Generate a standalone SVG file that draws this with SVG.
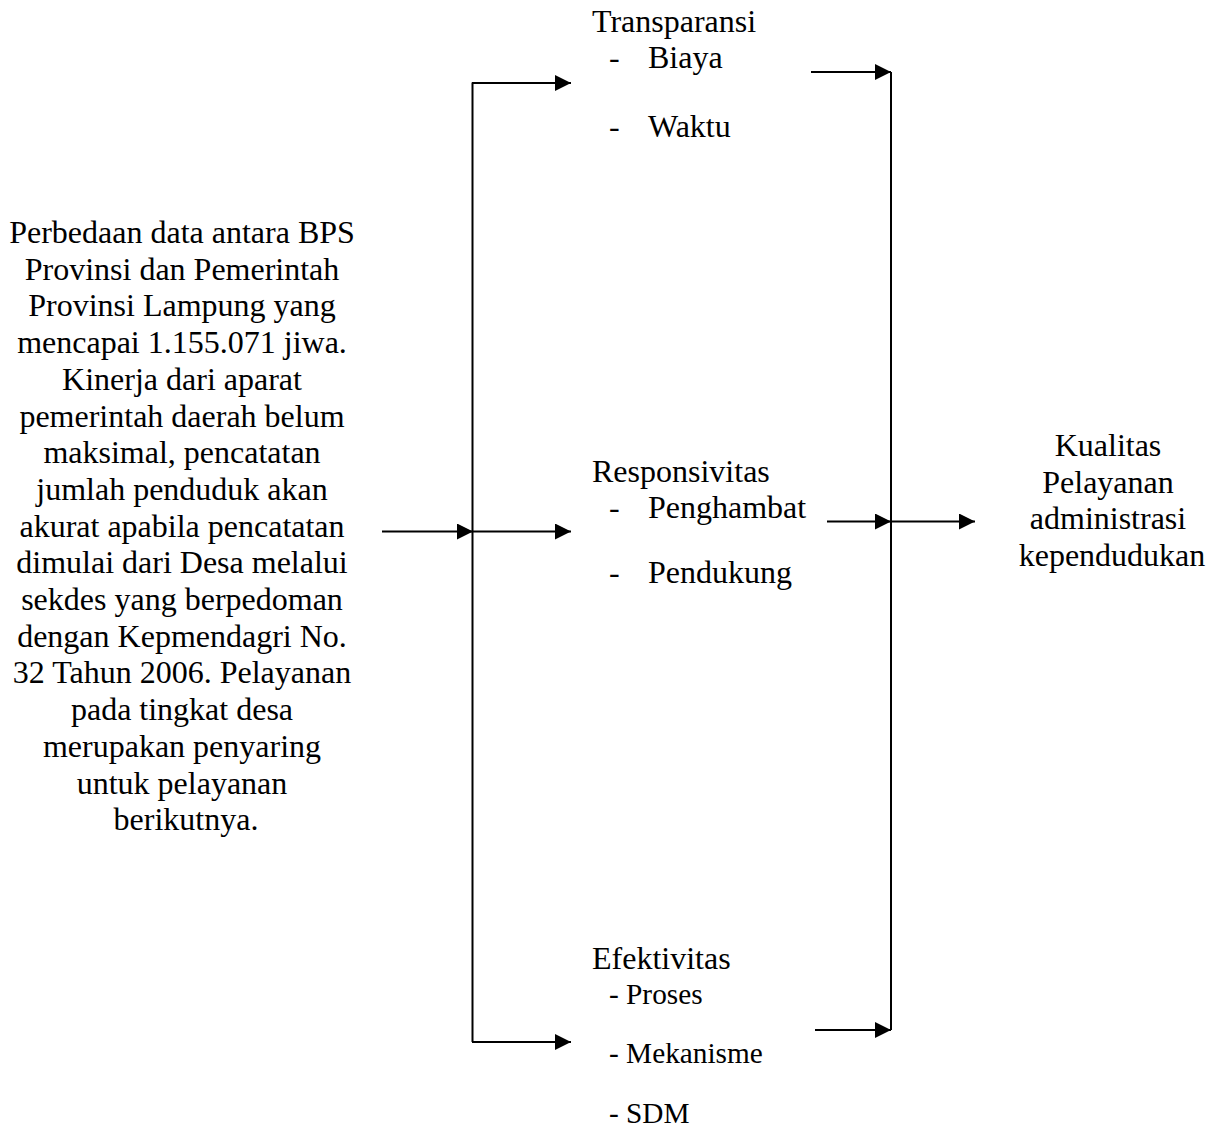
<svg xmlns="http://www.w3.org/2000/svg" width="1223" height="1128" viewBox="0 0 1223 1128">
<style>
.t{font-family:"Liberation Serif","Times New Roman",serif;font-size:32px;fill:#000}
.s{font-family:"Liberation Serif","Times New Roman",serif;font-size:29.3px;fill:#000}
.c{stroke:#000;stroke-width:2;fill:none}
</style>
<defs>
<marker id="ah" markerWidth="16" markerHeight="16" refX="16" refY="8" orient="auto" markerUnits="userSpaceOnUse">
<path d="M0,0 L16,8 L0,16 Z" fill="#000"/>
</marker>
</defs>
<rect width="1223" height="1128" fill="#fff"/>
<g id="problem">
<text class="t" text-anchor="middle">
<tspan x="186" y="243">Perbedaan data antara BPS</tspan>
<tspan x="186" y="279.7">Provinsi dan Pemerintah</tspan>
<tspan x="186" y="316.4">Provinsi Lampung yang</tspan>
<tspan x="186" y="353.1">mencapai 1.155.071 jiwa.</tspan>
<tspan x="186" y="389.8">Kinerja dari aparat</tspan>
<tspan x="186" y="426.5">pemerintah daerah belum</tspan>
<tspan x="186" y="463.2">maksimal, pencatatan</tspan>
<tspan x="186" y="499.9">jumlah penduduk akan</tspan>
<tspan x="186" y="536.6">akurat apabila pencatatan</tspan>
<tspan x="186" y="573.3">dimulai dari Desa melalui</tspan>
<tspan x="186" y="610">sekdes yang berpedoman</tspan>
<tspan x="186" y="646.7">dengan Kepmendagri No.</tspan>
<tspan x="186" y="683.4">32 Tahun 2006. Pelayanan</tspan>
<tspan x="186" y="720.1">pada tingkat desa</tspan>
<tspan x="186" y="756.8">merupakan penyaring</tspan>
<tspan x="186" y="793.5">untuk pelayanan</tspan>
<tspan x="186" y="830.2">berikutnya.</tspan>
</text>
</g>
<g id="transparansi">
<text class="t" x="592" y="32">Transparansi</text>
<text class="t" x="609" y="68">-</text>
<text class="t" x="648" y="68">Biaya</text>
<text class="t" x="609" y="137">-</text>
<text class="t" x="648" y="137">Waktu</text>
</g>
<g id="responsivitas">
<text class="t" x="592" y="482">Responsivitas</text>
<text class="t" x="609" y="518">-</text>
<text class="t" x="648" y="518">Penghambat</text>
<text class="t" x="609" y="583">-</text>
<text class="t" x="648" y="583">Pendukung</text>
</g>
<g id="efektivitas">
<text class="t" x="592" y="969">Efektivitas</text>
<text class="s" x="609" y="1004">- Proses</text>
<text class="s" x="609" y="1063">- Mekanisme</text>
<text class="s" x="609" y="1123">- SDM</text>
</g>
<g id="kualitas">
<text class="t" text-anchor="middle">
<tspan x="1112" y="456">Kualitas</tspan>
<tspan x="1112" y="492.5">Pelayanan</tspan>
<tspan x="1112" y="529">administrasi</tspan>
<tspan x="1112" y="565.5">kependudukan</tspan>
</text>
</g>
<g id="connectors">
<line class="c" x1="472.5" y1="82.5" x2="472.5" y2="1042"/>
<line class="c" x1="472" y1="83" x2="571" y2="83" marker-end="url(#ah)"/>
<line class="c" x1="472" y1="1042" x2="571" y2="1042" marker-end="url(#ah)"/>
<line class="c" x1="382" y1="531.5" x2="473" y2="531.5" marker-end="url(#ah)"/>
<line class="c" x1="472" y1="531.5" x2="571" y2="531.5" marker-end="url(#ah)"/>
<line class="c" x1="891" y1="72" x2="891" y2="1030"/>
<line class="c" x1="811" y1="72" x2="891" y2="72" marker-end="url(#ah)"/>
<line class="c" x1="815" y1="1030" x2="891" y2="1030" marker-end="url(#ah)"/>
<line class="c" x1="827" y1="521.5" x2="891" y2="521.5" marker-end="url(#ah)"/>
<line class="c" x1="891" y1="521.5" x2="975" y2="521.5" marker-end="url(#ah)"/>
</g>
</svg>
